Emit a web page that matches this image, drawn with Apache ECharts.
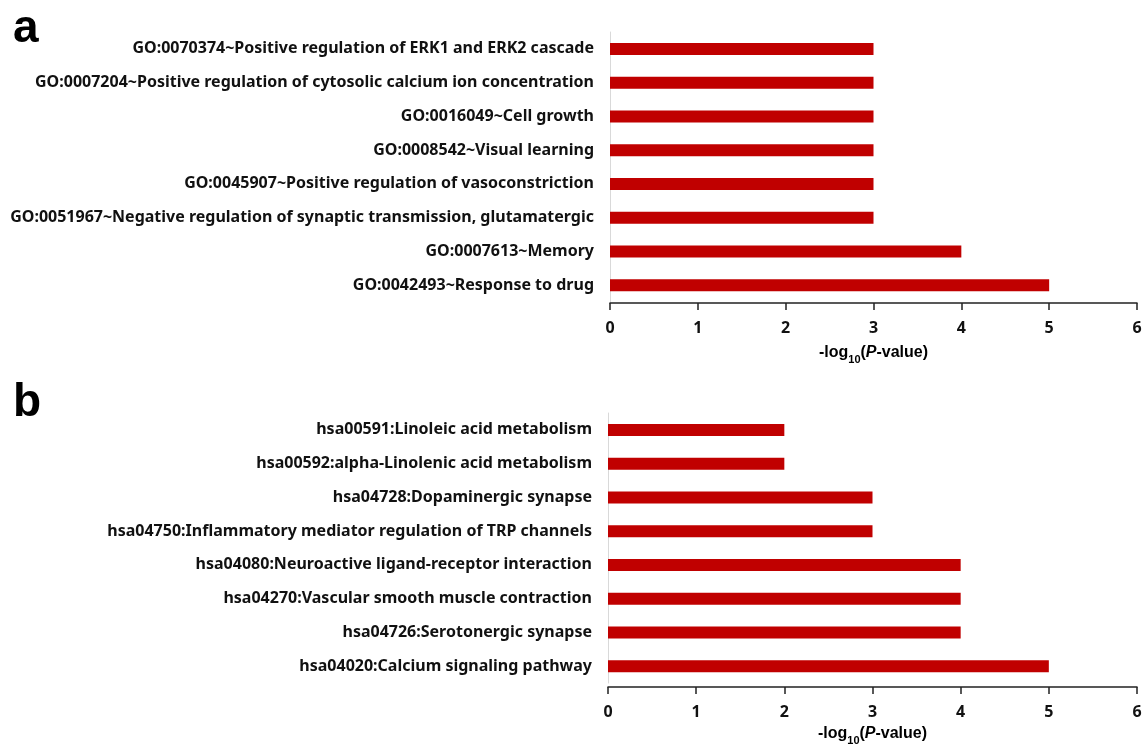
<!DOCTYPE html>
<html><head><meta charset="utf-8">
<script src="https://cdn.jsdelivr.net/npm/echarts@6/dist/echarts.min.js"></script>
<style>html,body{margin:0;padding:0;background:#fff}#c{width:1145px;height:744px}</style>
</head><body><div id="c"></div>
<script>
const goTerms = [
  'GO:0070374~Positive regulation of ERK1 and ERK2 cascade',
  'GO:0007204~Positive regulation of cytosolic calcium ion concentration',
  'GO:0016049~Cell growth',
  'GO:0008542~Visual learning',
  'GO:0045907~Positive regulation of vasoconstriction',
  'GO:0051967~Negative regulation of synaptic transmission, glutamatergic',
  'GO:0007613~Memory',
  'GO:0042493~Response to drug'
];
const goValues = [3, 3, 3, 3, 3, 3, 4, 5];
const keggTerms = [
  'hsa00591:Linoleic acid metabolism',
  'hsa00592:alpha-Linolenic acid metabolism',
  'hsa04728:Dopaminergic synapse',
  'hsa04750:Inflammatory mediator regulation of TRP channels',
  'hsa04080:Neuroactive ligand-receptor interaction',
  'hsa04270:Vascular smooth muscle contraction',
  'hsa04726:Serotonergic synapse',
  'hsa04020:Calcium signaling pathway'
];
const keggValues = [2, 2, 3, 3, 4, 4, 4, 5];
const xTicks = [0, 1, 2, 3, 4, 5, 6];

const labelFont = '"Noto Sans", "Open Sans", sans-serif';
const arial = '"Liberation Sans", Arial, sans-serif';
const axisNameRich = {
  a: {fontFamily: arial, fontWeight: 'bold', fontSize: 16, color: '#000', lineHeight: 20, verticalAlign: 'bottom'},
  s: {fontFamily: arial, fontWeight: 'bold', fontSize: 11, color: '#000', lineHeight: 15, verticalAlign: 'bottom', padding: [0,0,-4,0]},
  i: {fontFamily: arial, fontWeight: 'bold', fontStyle: 'italic', fontSize: 16, color: '#000', lineHeight: 20, verticalAlign: 'bottom'}
};
function xAx(gi, offset, gap) {
  return {
    gridIndex: gi, type: 'value', min: 0, max: 6, interval: 1, offset: offset,
    name: '{a|-log}{s|10}{a|(}{i|P}{a|-value)}', nameLocation: 'middle', nameGap: gap,
    nameTextStyle: {rich: axisNameRich},
    axisLine: {show: true, lineStyle: {color: '#222', width: 1.5}},
    axisTick: {show: true, length: 7, lineStyle: {color: '#222', width: 1.5}},
    axisLabel: {margin: 17, fontFamily: labelFont, fontWeight: 'bold', fontSize: 16, color: '#111',
      formatter: v => xTicks.includes(v) ? String(v) : ''},
    splitLine: {show: false}
  };
}
function yAx(gi, cats) {
  return {
    gridIndex: gi, type: 'category', data: cats, inverse: true,
    axisLine: {show: true, lineStyle: {color: '#d9d9d9', width: 1}},
    axisTick: {show: false},
    axisLabel: {margin: 16, fontFamily: labelFont, fontWeight: 'bold', fontSize: 16, color: '#111'}
  };
}
const chart = echarts.init(document.getElementById('c'));
chart.setOption({
  animation: false,
  backgroundColor: '#fff',
  graphic: [
    {type: 'text', left: 13, top: 6, style: {text: 'a', fontFamily: arial, fontWeight: 'bold', fontSize: 46, fill: '#000'}},
    {type: 'text', left: 13, top: 380, style: {text: 'b', fontFamily: arial, fontWeight: 'bold', fontSize: 46, fill: '#000'}}
  ],
  grid: [
    {left: 610, right: 8, top: 32, height: 270, outerBoundsMode: 'none', containLabel: false},
    {left: 608, right: 8, top: 413, height: 270, outerBoundsMode: 'none', containLabel: false}
  ],
  xAxis: [xAx(0, 1, 38), xAx(1, 4, 35)],
  yAxis: [yAx(0, goTerms), yAx(1, keggTerms)],
  series: [
    {type: 'bar', xAxisIndex: 0, yAxisIndex: 0, data: goValues, barWidth: 12, itemStyle: {color: '#c00000'}},
    {type: 'bar', xAxisIndex: 1, yAxisIndex: 1, data: keggValues, barWidth: 12, itemStyle: {color: '#c00000'}}
  ]
});
</script></body></html>
